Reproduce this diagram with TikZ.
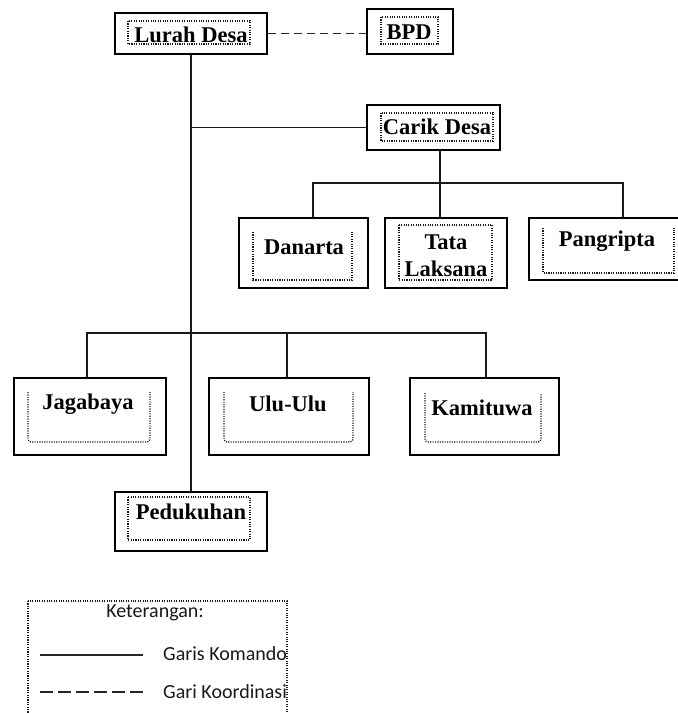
\documentclass[tikz,border=0pt]{standalone}
\usepackage{fontspec}
\setmainfont{Liberation Serif}
\newfontfamily\legfont{Carlito}
\begin{document}
\begin{tikzpicture}[x=1pt,y=-1pt,
  box/.style={draw=black, line width=1.8pt, rectangle, inner sep=0pt, fill=white},
  lbl/.style={font=\fontsize{22.5}{27}\selectfont\bfseries, inner sep=0pt, align=center, text=black},
  conn/.style={line width=1.4pt, draw=black!90},
  coord/.style={line width=1.3pt, draw=black!85, dash pattern=on 8pt off 5pt},
  dots/.style={line width=1.3pt, draw=black!90, dash pattern=on 1.1pt off 1.3pt},
  leg/.style={font=\legfont\fontsize{20}{22}\selectfont, inner sep=0pt, text=black!90}]
\useasboundingbox (0,0) rectangle (678,713);

% ---------- bus coordinates ----------
\coordinate (bus2L) at (313,183);
\coordinate (bus2M) at (440,183);
\coordinate (bus2R) at (623,183);
\coordinate (bus3L) at (87,333);
\coordinate (bus3M) at (287,333);
\coordinate (bus3R) at (486,333);

% ---------- boxes ----------
\node[box, minimum width=152pt, minimum height=41pt] (lurah) at (191,33.5) {};
\node[box, minimum width=86pt,  minimum height=45pt] (bpd) at (410,31.5) {};
\node[box, minimum width=133pt, minimum height=45pt] (carik) at (433.5,127.5) {};
\node[box, minimum width=129pt, minimum height=70pt] (danarta) at (303.5,253) {};
\node[box, minimum width=122pt, minimum height=70pt] (tata) at (446,253) {};
\node[box, minimum width=157pt, minimum height=62pt] (pangripta) at (607.5,249) {};
\node[box, minimum width=152pt, minimum height=77pt] (jagabaya) at (90,416.5) {};
\node[box, minimum width=160pt, minimum height=77pt] (ulu) at (289,416.5) {};
\node[box, minimum width=149pt, minimum height=77pt] (kamituwa) at (484.5,416.5) {};
\node[box, minimum width=152pt, minimum height=59pt] (pedukuhan) at (191,521.5) {};

% main spine
\draw[conn] (lurah.south) -- (pedukuhan.north);
% coordination line
\draw[coord] (lurah.east) -- (lurah.east -| bpd.west);
% to Carik Desa
\draw[conn] (lurah.south |- carik.west) -- (carik.west);
% Carik Desa subordinates
\draw[conn] (bus2M |- carik.south) -- (bus2M);
\draw[conn] (bus2L |- danarta.north) -- (bus2L) -- (bus2R) -- (bus2R |- pangripta.north);
\draw[conn] (bus2M) -- (bus2M |- tata.north);
% third level
\draw[conn] (bus3L |- jagabaya.north) -- (bus3L) -- (bus3R) -- (bus3R |- kamituwa.north);
\draw[conn] (bus3M) -- (bus3M |- ulu.north);

% ---------- inner dotted frames ----------
\draw[dots] (128,21) rectangle (250,44);
\draw[dots] (381,17) rectangle (438,44);
\draw[dots] (381,113) rectangle (493,141);
\draw[dots] (253,232) -- (253,280) -- (352,280) -- (352,231);
\draw[dots] (399,225) rectangle (492,280);
\draw[dots] (543,228) -- (543,273) -- (674,273) -- (674,228);
\draw[dots, rounded corners=3pt] (28,392) -- (28,442) -- (150,442) -- (150,392);
\draw[dots, rounded corners=3pt] (224,392) -- (224,442) -- (353,442) -- (353,392);
\draw[dots, rounded corners=3pt] (425,393) -- (425,442) -- (541,442) -- (541,393);
\draw[dots] (128,497) rectangle (250,540);

% ---------- labels ----------
\node[lbl] (tlurah) at (191,35) {Lurah Desa};
\node[lbl] (tbpd) at (409,32) {BPD};
\node[lbl] (tcarik) at (437,127) {Carik Desa};
\node[lbl] (tdanarta) at (304,247) {Danarta};
\node[lbl] (ttata) at (446,255.5) {Tata\\Laksana};
\node[lbl] (tpangripta) at (607,241) {Pangripta};
\node[lbl] (tjagabaya) at (88,404) {Jagabaya};
\node[lbl] (tulu) at (288,404) {Ulu-Ulu};
\node[lbl] (tkamituwa) at (482,408) {Kamituwa};
\node[lbl] (tpedukuhan) at (191,512) {Pedukuhan};

% ---------- legend ----------
\draw[dots] (28,601) rectangle (287,725);
\begin{scope}
\clip (28,601) rectangle (287,725);
\node[leg] (ket) at (155,613) {Keterangan:};
\coordinate (s1) at (40,655);
\coordinate (s2) at (143,655);
\coordinate (d1) at (40,692);
\coordinate (d2) at (143,692);
\draw[line width=1.6pt, draw=black!85] (s1) -- (s2);
\draw[line width=1.6pt, draw=black!85, dash pattern=on 13pt off 5pt] (d1) -- (d2);
\node[leg, anchor=west] (komando) at (163,654) {Garis Komando};
\node[leg, anchor=west] (koord) at (163,692) {Gari Koordinasi};
\end{scope}
\end{tikzpicture}
\end{document}
